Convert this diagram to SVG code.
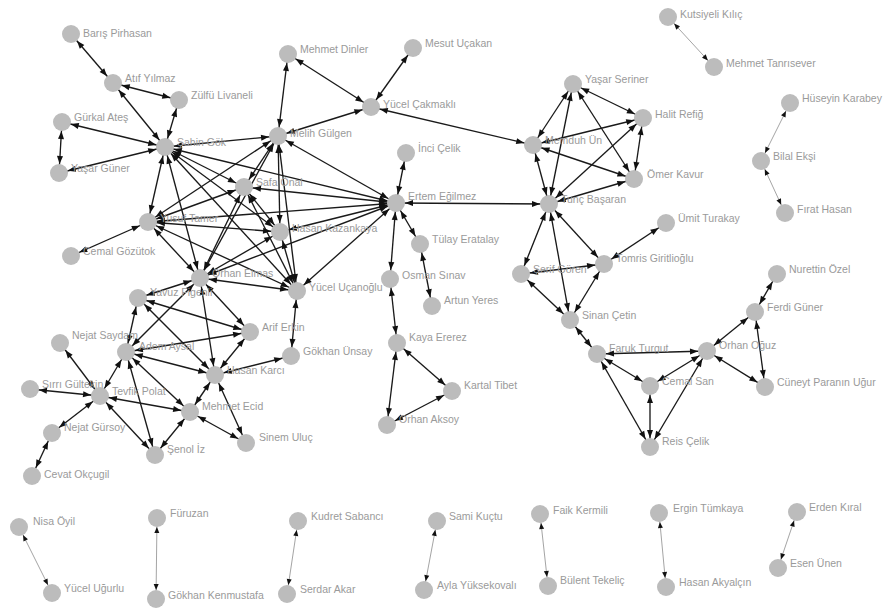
<svg xmlns="http://www.w3.org/2000/svg" width="895" height="612" viewBox="0 0 895 612">
<style>
.e{stroke:#1a1a1a;stroke-width:1.35;marker-start:url(#a);marker-end:url(#a)}
.t{stroke:#9a9a9a;stroke-width:0.9;marker-start:url(#b);marker-end:url(#b)}
.n circle{fill:#bcbcbc;filter:url(#soft)}
.n text{font-family:"Liberation Sans",Arial,sans-serif;font-size:10.5px;fill:#9a9a9a}
</style>
<defs>
<filter id="soft" x="-50%" y="-50%" width="200%" height="200%"><feGaussianBlur stdDeviation="0.7"/></filter>
<marker id="a" markerUnits="userSpaceOnUse" markerWidth="8" markerHeight="6" refX="17" refY="3" orient="auto-start-reverse" overflow="visible"><path d="M0,0L8,3L0,6z" fill="#111"/></marker>
<marker id="b" markerUnits="userSpaceOnUse" markerWidth="6" markerHeight="5" refX="15" refY="2.5" orient="auto-start-reverse" overflow="visible"><path d="M0,0L6,2.5L0,5z" fill="#111"/></marker>
</defs>
<rect width="895" height="612" fill="#fff"/>
<g id="connectors">
<line class="e" x1="71" y1="34" x2="113" y2="83"/>
<line class="e" x1="113" y1="83" x2="179" y2="100"/>
<line class="e" x1="113" y1="83" x2="165" y2="147"/>
<line class="e" x1="179" y1="100" x2="165" y2="147"/>
<line class="e" x1="62" y1="122" x2="59" y2="173"/>
<line class="e" x1="62" y1="122" x2="165" y2="147"/>
<line class="e" x1="59" y1="173" x2="165" y2="147"/>
<line class="e" x1="165" y1="147" x2="278" y2="136"/>
<line class="e" x1="165" y1="147" x2="244" y2="187"/>
<line class="e" x1="165" y1="147" x2="148" y2="222"/>
<line class="e" x1="165" y1="147" x2="200" y2="278"/>
<line class="e" x1="165" y1="147" x2="280" y2="232"/>
<line class="e" x1="165" y1="147" x2="297" y2="291"/>
<line class="e" x1="165" y1="147" x2="396" y2="203"/>
<line class="e" x1="288" y1="54" x2="278" y2="136"/>
<line class="e" x1="288" y1="54" x2="371" y2="107"/>
<line class="e" x1="413" y1="48" x2="371" y2="107"/>
<line class="e" x1="278" y1="136" x2="371" y2="107"/>
<line class="e" x1="371" y1="107" x2="533" y2="145"/>
<line class="e" x1="278" y1="136" x2="244" y2="187"/>
<line class="e" x1="278" y1="136" x2="148" y2="222"/>
<line class="e" x1="278" y1="136" x2="200" y2="278"/>
<line class="e" x1="278" y1="136" x2="280" y2="232"/>
<line class="e" x1="278" y1="136" x2="297" y2="291"/>
<line class="e" x1="278" y1="136" x2="396" y2="203"/>
<line class="e" x1="244" y1="187" x2="148" y2="222"/>
<line class="e" x1="244" y1="187" x2="200" y2="278"/>
<line class="e" x1="244" y1="187" x2="280" y2="232"/>
<line class="e" x1="244" y1="187" x2="297" y2="291"/>
<line class="e" x1="244" y1="187" x2="396" y2="203"/>
<line class="e" x1="148" y1="222" x2="71" y2="256"/>
<line class="e" x1="148" y1="222" x2="200" y2="278"/>
<line class="e" x1="148" y1="222" x2="280" y2="232"/>
<line class="e" x1="148" y1="222" x2="297" y2="291"/>
<line class="e" x1="148" y1="222" x2="396" y2="203"/>
<line class="e" x1="200" y1="278" x2="280" y2="232"/>
<line class="e" x1="200" y1="278" x2="297" y2="291"/>
<line class="e" x1="200" y1="278" x2="396" y2="203"/>
<line class="e" x1="200" y1="278" x2="138" y2="298"/>
<line class="e" x1="200" y1="278" x2="126" y2="352"/>
<line class="e" x1="200" y1="278" x2="250" y2="332"/>
<line class="e" x1="200" y1="278" x2="215" y2="375"/>
<line class="e" x1="280" y1="232" x2="297" y2="291"/>
<line class="e" x1="280" y1="232" x2="396" y2="203"/>
<line class="e" x1="297" y1="291" x2="396" y2="203"/>
<line class="e" x1="297" y1="291" x2="291" y2="356"/>
<line class="e" x1="396" y1="203" x2="406" y2="153"/>
<line class="e" x1="396" y1="203" x2="420" y2="244"/>
<line class="e" x1="396" y1="203" x2="390" y2="279"/>
<line class="e" x1="396" y1="203" x2="549" y2="204"/>
<line class="e" x1="420" y1="244" x2="432" y2="306"/>
<line class="e" x1="390" y1="279" x2="397" y2="343"/>
<line class="e" x1="397" y1="343" x2="452" y2="391"/>
<line class="e" x1="397" y1="343" x2="387" y2="425"/>
<line class="e" x1="387" y1="425" x2="452" y2="391"/>
<line class="e" x1="138" y1="298" x2="250" y2="332"/>
<line class="e" x1="138" y1="298" x2="215" y2="375"/>
<line class="e" x1="138" y1="298" x2="126" y2="352"/>
<line class="e" x1="126" y1="352" x2="250" y2="332"/>
<line class="e" x1="126" y1="352" x2="215" y2="375"/>
<line class="e" x1="126" y1="352" x2="100" y2="396"/>
<line class="e" x1="126" y1="352" x2="155" y2="455"/>
<line class="e" x1="126" y1="352" x2="190" y2="412"/>
<line class="e" x1="250" y1="332" x2="215" y2="375"/>
<line class="e" x1="215" y1="375" x2="291" y2="356"/>
<line class="e" x1="215" y1="375" x2="190" y2="412"/>
<line class="e" x1="215" y1="375" x2="246" y2="443"/>
<line class="e" x1="100" y1="396" x2="60" y2="343"/>
<line class="e" x1="100" y1="396" x2="30" y2="389"/>
<line class="e" x1="100" y1="396" x2="52" y2="433"/>
<line class="e" x1="100" y1="396" x2="155" y2="455"/>
<line class="e" x1="100" y1="396" x2="190" y2="412"/>
<line class="e" x1="190" y1="412" x2="155" y2="455"/>
<line class="e" x1="190" y1="412" x2="246" y2="443"/>
<line class="e" x1="52" y1="433" x2="32" y2="476"/>
<line class="e" x1="549" y1="204" x2="533" y2="145"/>
<line class="e" x1="549" y1="204" x2="573" y2="84"/>
<line class="e" x1="549" y1="204" x2="643" y2="118"/>
<line class="e" x1="549" y1="204" x2="634" y2="179"/>
<line class="e" x1="549" y1="204" x2="521" y2="274"/>
<line class="e" x1="549" y1="204" x2="570" y2="320"/>
<line class="e" x1="549" y1="204" x2="604" y2="264"/>
<line class="e" x1="533" y1="145" x2="573" y2="84"/>
<line class="e" x1="533" y1="145" x2="643" y2="118"/>
<line class="e" x1="533" y1="145" x2="634" y2="179"/>
<line class="e" x1="573" y1="84" x2="643" y2="118"/>
<line class="e" x1="573" y1="84" x2="634" y2="179"/>
<line class="e" x1="643" y1="118" x2="634" y2="179"/>
<line class="e" x1="604" y1="264" x2="666" y2="223"/>
<line class="e" x1="604" y1="264" x2="521" y2="274"/>
<line class="e" x1="604" y1="264" x2="570" y2="320"/>
<line class="e" x1="521" y1="274" x2="570" y2="320"/>
<line class="e" x1="570" y1="320" x2="597" y2="354"/>
<line class="e" x1="597" y1="354" x2="707" y2="351"/>
<line class="e" x1="597" y1="354" x2="650" y2="386"/>
<line class="e" x1="597" y1="354" x2="650" y2="447"/>
<line class="e" x1="650" y1="386" x2="707" y2="351"/>
<line class="e" x1="650" y1="386" x2="650" y2="447"/>
<line class="e" x1="650" y1="447" x2="707" y2="351"/>
<line class="e" x1="707" y1="351" x2="755" y2="312"/>
<line class="e" x1="707" y1="351" x2="765" y2="387"/>
<line class="e" x1="755" y1="312" x2="777" y2="274"/>
<line class="e" x1="755" y1="312" x2="765" y2="387"/>
<line class="t" x1="668" y1="17" x2="714" y2="67"/>
<line class="t" x1="790" y1="103" x2="761" y2="161"/>
<line class="t" x1="761" y1="161" x2="785" y2="213"/>
<line class="t" x1="19" y1="527" x2="52" y2="593"/>
<line class="t" x1="157" y1="518" x2="156" y2="599"/>
<line class="t" x1="298" y1="521" x2="287" y2="594"/>
<line class="t" x1="437" y1="521" x2="424" y2="590"/>
<line class="t" x1="540" y1="514" x2="548" y2="586"/>
<line class="t" x1="659" y1="513" x2="666" y2="587"/>
<line class="t" x1="797" y1="512" x2="778" y2="568"/>
</g>
<g id="pirhasan" class="n"><circle cx="71" cy="34" r="9"/><text x="83" y="37">Barış Pirhasan</text></g>
<g id="atif" class="n"><circle cx="113" cy="83" r="9"/><text x="125" y="82">Atıf Yılmaz</text></g>
<g id="zulfu" class="n"><circle cx="179" cy="100" r="9"/><text x="191" y="99">Zülfü Livaneli</text></g>
<g id="gurkal" class="n"><circle cx="62" cy="122" r="9"/><text x="74" y="121">Gürkal Ateş</text></g>
<g id="yasarg" class="n"><circle cx="59" cy="173" r="9"/><text x="71" y="172">Yaşar Güner</text></g>
<g id="sahin" class="n"><circle cx="165" cy="147" r="9"/><text x="177" y="146">Şahin Gök</text></g>
<g id="dinler" class="n"><circle cx="288" cy="54" r="9"/><text x="300" y="53">Mehmet Dinler</text></g>
<g id="mesut" class="n"><circle cx="413" cy="48" r="9"/><text x="425" y="47">Mesut Uçakan</text></g>
<g id="cakmakli" class="n"><circle cx="371" cy="107" r="9"/><text x="383" y="108">Yücel Çakmaklı</text></g>
<g id="melih" class="n"><circle cx="278" cy="136" r="9"/><text x="290" y="137">Melih Gülgen</text></g>
<g id="safa" class="n"><circle cx="244" cy="187" r="9"/><text x="256" y="186">Safa Önal</text></g>
<g id="yusuf" class="n"><circle cx="148" cy="222" r="9"/><text x="160" y="222">Yusuf Tamer</text></g>
<g id="hasank" class="n"><circle cx="280" cy="232" r="9"/><text x="292" y="232">Hasan Kazankaya</text></g>
<g id="cemalg" class="n"><circle cx="71" cy="256" r="9"/><text x="83" y="255">Cemal Gözütok</text></g>
<g id="orhane" class="n"><circle cx="200" cy="278" r="9"/><text x="212" y="277">Orhan Elmas</text></g>
<g id="yucelu" class="n"><circle cx="297" cy="291" r="9"/><text x="309" y="291">Yücel Uçanoğlu</text></g>
<g id="yavuz" class="n"><circle cx="138" cy="298" r="9"/><text x="150" y="296">Yavuz Figenli</text></g>
<g id="arif" class="n"><circle cx="250" cy="332" r="9"/><text x="262" y="331">Arif Erkin</text></g>
<g id="gokhan" class="n"><circle cx="291" cy="356" r="9"/><text x="303" y="355">Gökhan Ünsay</text></g>
<g id="nejats" class="n"><circle cx="60" cy="343" r="9"/><text x="72" y="339">Nejat Saydam</text></g>
<g id="adem" class="n"><circle cx="126" cy="352" r="9"/><text x="139" y="350">Adem Aysal</text></g>
<g id="hasanc" class="n"><circle cx="215" cy="375" r="9"/><text x="227" y="374">Hasan Karcı</text></g>
<g id="sirri" class="n"><circle cx="30" cy="389" r="9"/><text x="42" y="388">Sırrı Gültekin</text></g>
<g id="tevfik" class="n"><circle cx="100" cy="396" r="9"/><text x="112" y="395">Tevfik Polat</text></g>
<g id="mehmete" class="n"><circle cx="190" cy="412" r="9"/><text x="202" y="410">Mehmet Ecid</text></g>
<g id="nejatg" class="n"><circle cx="52" cy="433" r="9"/><text x="64" y="431">Nejat Gürsoy</text></g>
<g id="senol" class="n"><circle cx="155" cy="455" r="9"/><text x="167" y="453">Şenol İz</text></g>
<g id="sinem" class="n"><circle cx="246" cy="443" r="9"/><text x="259" y="441">Sinem Uluç</text></g>
<g id="cevat" class="n"><circle cx="32" cy="476" r="9"/><text x="44" y="478">Cevat Okçugil</text></g>
<g id="ertem" class="n"><circle cx="396" cy="203" r="9"/><text x="408" y="200">Ertem Eğilmez</text></g>
<g id="inci" class="n"><circle cx="406" cy="153" r="9"/><text x="418" y="152">İnci Çelik</text></g>
<g id="tulay" class="n"><circle cx="420" cy="244" r="9"/><text x="432" y="243">Tülay Eratalay</text></g>
<g id="osman" class="n"><circle cx="390" cy="279" r="9"/><text x="402" y="279">Osman Sınav</text></g>
<g id="artun" class="n"><circle cx="432" cy="306" r="9"/><text x="444" y="304">Artun Yeres</text></g>
<g id="kaya" class="n"><circle cx="397" cy="343" r="9"/><text x="409" y="341">Kaya Ererez</text></g>
<g id="kartal" class="n"><circle cx="452" cy="391" r="9"/><text x="464" y="389">Kartal Tibet</text></g>
<g id="aksoy" class="n"><circle cx="387" cy="425" r="9"/><text x="399" y="423">Orhan Aksoy</text></g>
<g id="tunc" class="n"><circle cx="549" cy="204" r="9"/><text x="561" y="203">Tunç Başaran</text></g>
<g id="memduh" class="n"><circle cx="533" cy="145" r="9"/><text x="545" y="144">Memduh Ün</text></g>
<g id="yasars" class="n"><circle cx="573" cy="84" r="9"/><text x="585" y="83">Yaşar Seriner</text></g>
<g id="halit" class="n"><circle cx="643" cy="118" r="9"/><text x="655" y="118">Halit Refiğ</text></g>
<g id="omer" class="n"><circle cx="634" cy="179" r="9"/><text x="647" y="178">Ömer Kavur</text></g>
<g id="umit" class="n"><circle cx="666" cy="223" r="9"/><text x="678" y="222">Ümit Turakay</text></g>
<g id="tomris" class="n"><circle cx="604" cy="264" r="9"/><text x="616" y="262">Tomris Giritlioğlu</text></g>
<g id="serif" class="n"><circle cx="521" cy="274" r="9"/><text x="533" y="273">Şerif Gören</text></g>
<g id="sinan" class="n"><circle cx="570" cy="320" r="9"/><text x="582" y="319">Sinan Çetin</text></g>
<g id="faruk" class="n"><circle cx="597" cy="354" r="9"/><text x="609" y="352">Faruk Turgut</text></g>
<g id="orhano" class="n"><circle cx="707" cy="351" r="9"/><text x="719" y="349">Orhan Oğuz</text></g>
<g id="cemals" class="n"><circle cx="650" cy="386" r="9"/><text x="662" y="385">Cemal San</text></g>
<g id="reis" class="n"><circle cx="650" cy="447" r="9"/><text x="662" y="445">Reis Çelik</text></g>
<g id="ferdi" class="n"><circle cx="755" cy="312" r="9"/><text x="767" y="311">Ferdi Güner</text></g>
<g id="nurettin" class="n"><circle cx="777" cy="274" r="9"/><text x="789" y="273">Nurettin Özel</text></g>
<g id="cagan" class="n"><circle cx="765" cy="387" r="9"/><text x="777" y="386">Cüneyt Paranın Uğur</text></g>
<g id="kudsi" class="n"><circle cx="668" cy="17" r="9"/><text x="680" y="18">Kutsiyeli Kılıç</text></g>
<g id="tanrisever" class="n"><circle cx="714" cy="67" r="9"/><text x="726" y="67">Mehmet Tanrısever</text></g>
<g id="huseyin" class="n"><circle cx="790" cy="103" r="9"/><text x="802" y="102">Hüseyin Karabey</text></g>
<g id="bilal" class="n"><circle cx="761" cy="161" r="9"/><text x="773" y="160">Bilal Ekşi</text></g>
<g id="firat" class="n"><circle cx="785" cy="213" r="9"/><text x="797" y="213">Fırat Hasan</text></g>
<g id="nisa" class="n"><circle cx="19" cy="527" r="9"/><text x="33" y="525">Nisa Öyil</text></g>
<g id="ugurlu" class="n"><circle cx="52" cy="593" r="9"/><text x="64" y="592">Yücel Uğurlu</text></g>
<g id="furuzan" class="n"><circle cx="157" cy="518" r="9"/><text x="170" y="517">Füruzan</text></g>
<g id="gokhank" class="n"><circle cx="156" cy="599" r="9"/><text x="168" y="599">Gökhan Kenmustafa</text></g>
<g id="kudret" class="n"><circle cx="298" cy="521" r="9"/><text x="311" y="520">Kudret Sabancı</text></g>
<g id="serdar" class="n"><circle cx="287" cy="594" r="9"/><text x="300" y="593">Serdar Akar</text></g>
<g id="sami" class="n"><circle cx="437" cy="521" r="9"/><text x="449" y="520">Sami Kuçtu</text></g>
<g id="ayla" class="n"><circle cx="424" cy="590" r="9"/><text x="437" y="589">Ayla Yüksekovalı</text></g>
<g id="faik" class="n"><circle cx="540" cy="514" r="9"/><text x="553" y="514">Faik Kermili</text></g>
<g id="bulent" class="n"><circle cx="548" cy="586" r="9"/><text x="560" y="584">Bülent Tekeliç</text></g>
<g id="ergin" class="n"><circle cx="659" cy="513" r="9"/><text x="673" y="512">Ergin Tümkaya</text></g>
<g id="hasana" class="n"><circle cx="666" cy="587" r="9"/><text x="679" y="586">Hasan Akyalçın</text></g>
<g id="erden" class="n"><circle cx="797" cy="512" r="9"/><text x="809" y="511">Erden Kıral</text></g>
<g id="esen" class="n"><circle cx="778" cy="568" r="9"/><text x="790" y="567">Esen Ünen</text></g>
</svg>
